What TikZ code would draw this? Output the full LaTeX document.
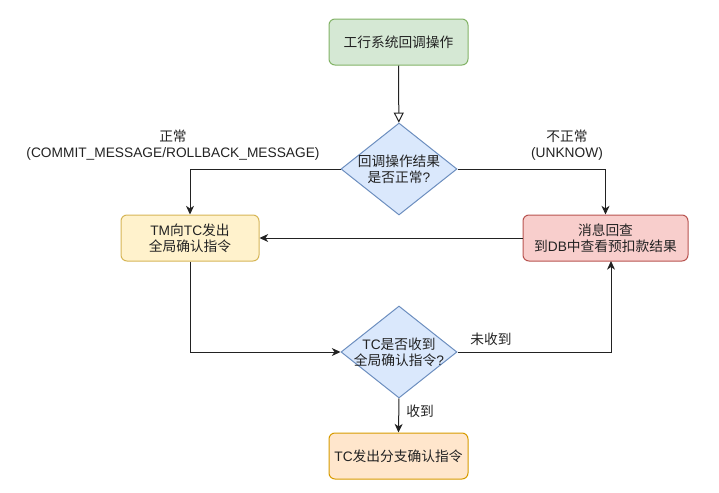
\documentclass[tikz,border=0pt]{standalone}
\usepackage{fontspec}
\setmainfont{Liberation Sans}
\newfontfamily\cjk{Noto Sans CJK SC}
\newcommand{\cn}[1]{{\cjk #1}}
\usetikzlibrary{shapes.geometric,arrows.meta}
\definecolor{gfill}{HTML}{D5E8D4}\definecolor{gdraw}{HTML}{82B366}
\definecolor{bfill}{HTML}{DAE8FC}\definecolor{bdraw}{HTML}{6C8EBF}
\definecolor{yfill}{HTML}{FFF2CC}\definecolor{ydraw}{HTML}{D6B656}
\definecolor{rfill}{HTML}{F8CECC}\definecolor{rdraw}{HTML}{B85450}
\definecolor{ofill}{HTML}{FFE6CC}\definecolor{odraw}{HTML}{D79B00}
\definecolor{edge}{HTML}{222222}
\definecolor{txt}{HTML}{222222}
\begin{document}
\begin{tikzpicture}[x=0.75pt,y=-0.75pt,
  every node/.style={font=\fontsize{10.3pt}{12pt}\selectfont, text=txt},
  box/.style={rectangle, rounded corners=4.5pt, line width=0.75pt, minimum height=34.5pt, inner sep=0pt, align=center},
  dec/.style={diamond, line width=0.75pt, draw=bdraw, fill=bfill, minimum width=87pt, minimum height=69pt, inner sep=0pt},
  lbl/.style={align=center, inner sep=0pt},
  conn/.style={line width=0.75pt, draw=edge, -{Stealth[length=6.5pt,width=6pt,inset=2pt]}},
  openconn/.style={line width=0.75pt, draw=edge, -{Triangle[open,length=7.5pt,width=7.5pt]}}
]
\useasboundingbox (0,0) rectangle (719,493);
\node[box, draw=gdraw, fill=gfill, minimum width=104.25pt] (top) at (398.5,42) {\cn{工行系统回调操作}};
\node[dec, label={[lbl]center:\cn{回调操作结果}\\\cn{是否正常}?}] (d1) at (399,169) {};
\node[box, draw=ydraw, fill=yfill, minimum width=103.5pt] (tm) at (190,238) {TM\cn{向}TC\cn{发出}\\\cn{全局确认指令}};
\node[box, draw=rdraw, fill=rfill, minimum width=123.75pt] (chk) at (605.5,238) {\cn{消息回查}\\\cn{到}DB\cn{中查看预扣款结果}};
\node[dec, label={[lbl]center:TC\cn{是否收到}\\\cn{全局确认指令}?}] (d2) at (399,352) {};
\node[box, draw=odraw, fill=ofill, minimum width=104.25pt] (fin) at (398.5,456) {TC\cn{发出分支确认指令}};
\coordinate (chkin) at (611,261);
\draw[openconn] (top) -- (d1);
\draw[conn] (d1.west) -| (tm.north);
\draw[conn] (d1.east) -| (chk.north);
\draw[conn] (chk.west) -- (tm.east);
\draw[conn] (tm.south) |- (d2.west);
\draw[conn] (d2.east) -| (chkin);
\draw[conn] (d2.south) -- (fin.north);
\node[lbl] (lok) at (173,145.5) {\cn{正常}\\(COMMIT\_MESSAGE/ROLLBACK\_MESSAGE)};
\node[lbl] (lbad) at (567,145.5) {\cn{不正常}\\(UNKNOW)};
\node[lbl] (lno) at (491,339) {\cn{未收到}};
\node[lbl] (lyes) at (420,411) {\cn{收到}};
\end{tikzpicture}
\end{document}
